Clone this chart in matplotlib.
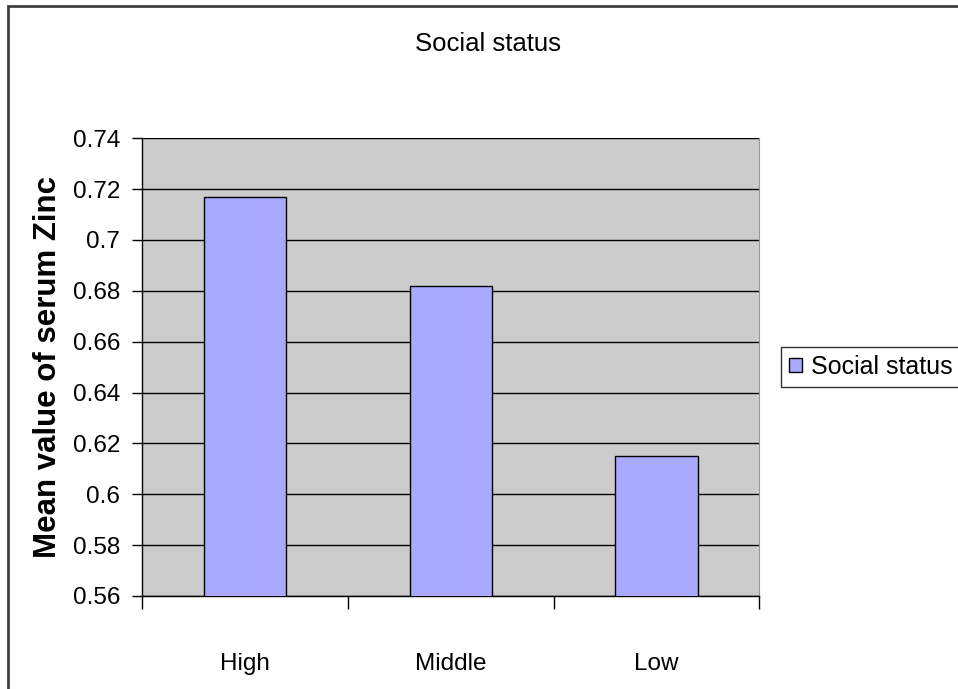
import matplotlib
matplotlib.use('Agg')
import matplotlib.pyplot as plt
from matplotlib.patches import Rectangle

plt.rcParams['font.family'] = ['Liberation Sans', 'DejaVu Sans']

categories = ['High', 'Middle', 'Low']
zinc_mean = [0.717, 0.682, 0.615]
y_ticks = [0.56, 0.58, 0.60, 0.62, 0.64, 0.66, 0.68, 0.70, 0.72, 0.74]
y_ticklabels = ['0.56', '0.58', '0.6', '0.62', '0.64', '0.66', '0.68', '0.7', '0.72', '0.74']

bar_color = '#A9A9FF'
plot_bg = '#CCCCCC'

fig = plt.figure(figsize=(9.58, 6.89), dpi=100)

# outer chart frame, runs off the right and bottom edges
fig.patches.append(Rectangle((8 / 958, -0.1), 1.2, 1 - 6 / 689 + 0.1,
                             transform=fig.transFigure, fill=False,
                             edgecolor='#404040', linewidth=2))

ax = fig.add_axes([0.1487, 0.135, 0.6439, 0.6643])
ax.set_facecolor(plot_bg)

x = range(len(categories))
ax.bar(x, zinc_mean, width=0.4, color=bar_color, edgecolor='black',
       linewidth=1, zorder=3, label='Social status')

ax.set_xlim(-0.5, len(categories) - 0.5)
ax.set_ylim(y_ticks[0], y_ticks[-1])
ax.set_yticks(y_ticks)
ax.set_yticklabels(y_ticklabels, fontsize=17.5)
ax.yaxis.grid(True, color='black', linewidth=1, zorder=0)
ax.set_axisbelow(True)

# category boundaries carry the ticks, labels sit at bar centers
ax.set_xticks([-0.5, 0.5, 1.5, 2.5])
ax.set_xticklabels([])
ax.set_xticks(list(x), minor=True)
ax.set_xticklabels(categories, minor=True, fontsize=17.5)
ax.tick_params(axis='x', which='major', direction='out', length=9, width=1)
ax.tick_params(axis='x', which='minor', length=0, pad=41)
ax.tick_params(axis='y', direction='out', length=7, width=1, pad=9)

for side in ['left', 'bottom']:
    ax.spines[side].set_color('black')
    ax.spines[side].set_linewidth(1)
ax.spines['right'].set_color('#999999')
ax.spines['top'].set_visible(False)

ax.set_ylabel('Mean value of serum Zinc', fontsize=22.5, fontweight='bold',
              va='center')
ax.yaxis.set_label_coords(-0.153, 0.5)

fig.text(487.5 / 958, 1 - 44 / 689, 'Social status', fontsize=18.5,
         ha='center', va='center')

leg = ax.legend(loc='center left', bbox_to_anchor=(781 / 958, 1 - 367 / 689),
                bbox_transform=fig.transFigure, fontsize=18,
                frameon=True, fancybox=False, shadow=False,
                handlelength=0.52, handleheight=0.52, handletextpad=0.36,
                borderpad=0.32, borderaxespad=0)
leg.get_frame().set_edgecolor('black')
leg.get_frame().set_linewidth(1)

fig.savefig('out.png', dpi=100)
